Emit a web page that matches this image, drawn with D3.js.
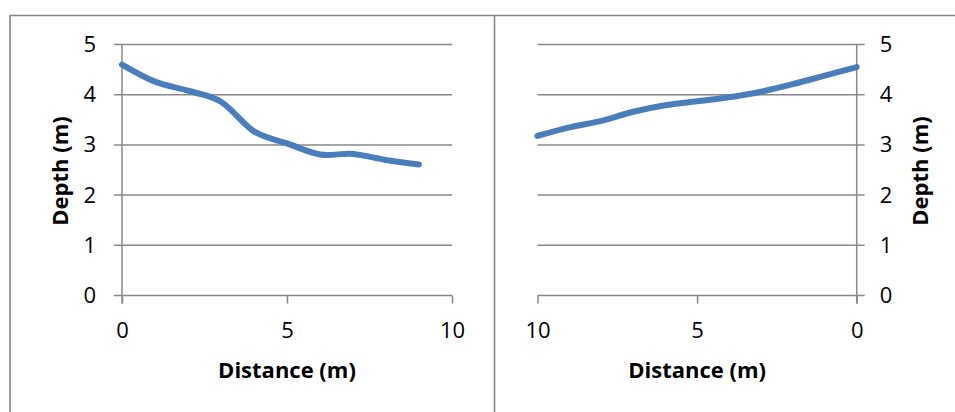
<!DOCTYPE html>
<html>
<head>
<meta charset="utf-8">
<script src="https://cdn.jsdelivr.net/npm/d3@7"></script>
<style>
  html, body { margin: 0; padding: 0; background: #fff; }
  svg { display: block; }
  text { font-family: "Open Sans", sans-serif; fill: #000; }
</style>
</head>
<body>
<svg id="chart" width="955" height="412"></svg>
<script>
// Cross-section profiles: depth along distance for the two banks
const leftDistance  = [0, 1, 2, 3, 4, 5, 6, 7, 8, 9];
const leftDepth     = [4.60, 4.26, 4.08, 3.86, 3.27, 3.03, 2.81, 2.82, 2.70, 2.61];
const rightDistance = [0, 1, 2, 3, 4, 5, 6, 7, 8, 9, 10];
const rightDepth    = [4.55, 4.38, 4.21, 4.06, 3.95, 3.87, 3.79, 3.66, 3.48, 3.35, 3.18];
const xTicks = [0, 5, 10];
const yTicks = [0, 1, 2, 3, 4, 5];
const xTitle = "Distance (m)";
const yTitle = "Depth (m)";

const svg = d3.select("#chart");
const grey = "#878787";
const blue = "#4a7ebb";
const tick = 8;

// outer frame and divider between the two charts
svg.append("path")
  .attr("d", "M10,1000 V15.5 H1000")
  .attr("fill", "none").attr("stroke", grey).attr("stroke-width", 1.6);
svg.append("line")
  .attr("x1", 494.5).attr("x2", 494.5).attr("y1", 15.5).attr("y2", 1000)
  .attr("stroke", grey).attr("stroke-width", 1.6);

const y = d3.scaleLinear().domain([0, 5]).range([295.5, 44.5]);

function panel(opts) {
  const { x, dist, depth, side } = opts;
  const g = svg.append("g");
  const x0 = x(0), x10 = x(10);
  const axisX = x0;                                    // value axis sits at distance 0
  const gx1 = side === "left" ? axisX - tick : Math.min(x0, x10);
  const gx2 = side === "left" ? Math.max(x0, x10) : axisX + tick;

  // horizontal gridlines (the 0 line doubles as the category axis)
  g.selectAll("line.grid").data(yTicks).join("line")
    .attr("class", "grid")
    .attr("x1", gx1).attr("x2", gx2)
    .attr("y1", d => y(d)).attr("y2", d => y(d))
    .attr("stroke", grey).attr("stroke-width", 1.5);

  // vertical value axis line
  g.append("line")
    .attr("x1", axisX).attr("x2", axisX)
    .attr("y1", y(5)).attr("y2", y(0) + tick)
    .attr("stroke", grey).attr("stroke-width", 1.5);

  // bottom axis: ticks and labels
  const bottom = g.append("g")
    .attr("transform", `translate(0,${y(0)})`)
    .call(d3.axisBottom(x).tickValues(xTicks).tickSize(tick).tickPadding(19).tickFormat(d3.format("d")));
  bottom.select(".domain").remove();
  bottom.selectAll(".tick line").attr("stroke", grey).attr("stroke-width", 1.5);
  bottom.selectAll("text").attr("font-size", 22).attr("font-family", "Open Sans");

  // side axis labels
  const sideAxis = side === "left"
    ? d3.axisLeft(y).tickPadding(18)
    : d3.axisRight(y).tickPadding(15);
  const ya = g.append("g")
    .attr("transform", `translate(${axisX},0)`)
    .call(sideAxis.tickValues(yTicks).tickSize(tick).tickFormat(d3.format("d")));
  ya.select(".domain").remove();
  ya.selectAll(".tick line").remove();
  ya.selectAll("text").attr("font-size", 22).attr("font-family", "Open Sans");

  // axis titles
  g.append("text")
    .attr("x", (x0 + x10) / 2).attr("y", 378)
    .attr("text-anchor", "middle")
    .attr("font-size", 22).attr("font-weight", "bold")
    .text(xTitle);
  const tx = side === "left" ? 68 : 928;
  g.append("text")
    .attr("transform", `translate(${tx},171) rotate(-90)`)
    .attr("text-anchor", "middle")
    .attr("font-size", 22).attr("font-weight", "bold")
    .text(yTitle);

  // smoothed depth profile
  const line = d3.line()
    .x((d, i) => x(dist[i]))
    .y(d => y(d))
    .curve(d3.curveCardinal.tension(0));
  g.append("path")
    .datum(depth)
    .attr("d", line)
    .attr("fill", "none")
    .attr("stroke", blue)
    .attr("stroke-width", 6)
    .attr("stroke-linecap", "round")
    .attr("stroke-linejoin", "round");
}

panel({ x: d3.scaleLinear().domain([0, 10]).range([122, 452]),
        dist: leftDistance, depth: leftDepth, side: "left" });
panel({ x: d3.scaleLinear().domain([0, 10]).range([856.7, 537.5]),
        dist: rightDistance, depth: rightDepth, side: "right" });
</script>
</body>
</html>
